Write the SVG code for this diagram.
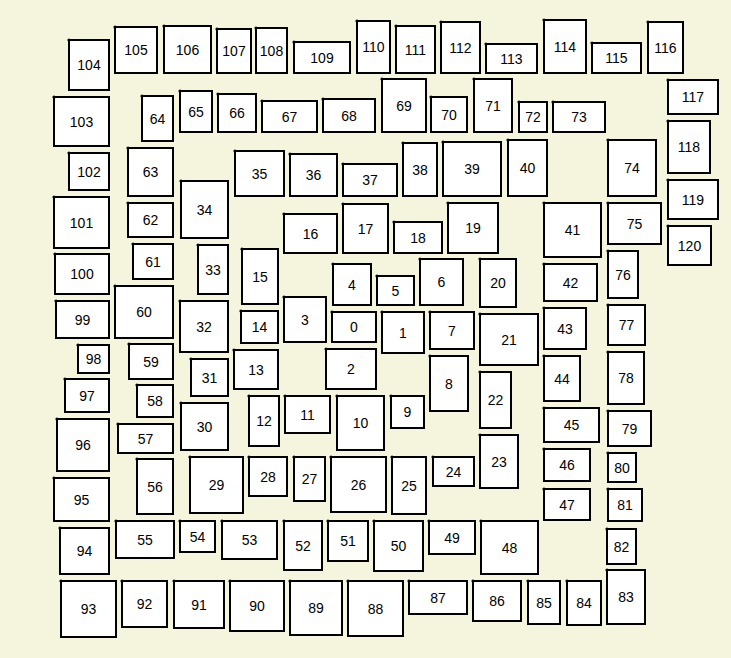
<svg xmlns="http://www.w3.org/2000/svg" width="731" height="658" viewBox="0 0 731 658">
<style>
.n rect{fill:#fff;stroke:#000;stroke-width:2}
.n circle{fill:#000}
.n text{font-family:"Liberation Sans",Arial,sans-serif;font-size:14px;fill:#000;text-anchor:middle;dominant-baseline:central}
</style>
<rect x="0" y="0" width="731" height="658" fill="#f5f4dc"/>
<g id="connectors"/>
<g id="nodes">
<g id="n0" class="n"><rect x="332" y="312" width="44" height="30"/><circle cx="332" cy="312" r="1.6"/><text x="354" y="327">0</text></g>
<g id="n1" class="n"><rect x="382" y="312" width="42" height="41"/><circle cx="382" cy="312" r="1.6"/><text x="403" y="332.5">1</text></g>
<g id="n2" class="n"><rect x="326" y="349" width="50" height="40"/><circle cx="326" cy="349" r="1.6"/><text x="351" y="369">2</text></g>
<g id="n3" class="n"><rect x="284" y="297" width="42" height="45"/><circle cx="284" cy="297" r="1.6"/><text x="305" y="319.5">3</text></g>
<g id="n4" class="n"><rect x="333" y="264" width="38" height="41"/><circle cx="333" cy="264" r="1.6"/><text x="352" y="284.5">4</text></g>
<g id="n5" class="n"><rect x="377" y="276" width="37" height="29"/><circle cx="377" cy="276" r="1.6"/><text x="395.5" y="290.5">5</text></g>
<g id="n6" class="n"><rect x="420" y="259" width="43" height="46"/><circle cx="420" cy="259" r="1.6"/><text x="441.5" y="282">6</text></g>
<g id="n7" class="n"><rect x="430" y="312" width="44" height="37"/><circle cx="430" cy="312" r="1.6"/><text x="452" y="330.5">7</text></g>
<g id="n8" class="n"><rect x="430" y="356" width="38" height="55"/><circle cx="430" cy="356" r="1.6"/><text x="449" y="383.5">8</text></g>
<g id="n9" class="n"><rect x="391" y="396" width="33" height="32"/><circle cx="391" cy="396" r="1.6"/><text x="407.5" y="412">9</text></g>
<g id="n10" class="n"><rect x="337" y="396" width="47" height="54"/><circle cx="337" cy="396" r="1.6"/><text x="360.5" y="423">10</text></g>
<g id="n11" class="n"><rect x="285" y="396" width="45" height="37"/><circle cx="285" cy="396" r="1.6"/><text x="307.5" y="414.5">11</text></g>
<g id="n12" class="n"><rect x="249" y="396" width="30" height="50"/><circle cx="249" cy="396" r="1.6"/><text x="264" y="421">12</text></g>
<g id="n13" class="n"><rect x="234" y="350" width="44" height="39"/><circle cx="234" cy="350" r="1.6"/><text x="256" y="369.5">13</text></g>
<g id="n14" class="n"><rect x="241" y="311" width="37" height="32"/><circle cx="241" cy="311" r="1.6"/><text x="259.5" y="327">14</text></g>
<g id="n15" class="n"><rect x="242" y="249" width="36" height="55"/><circle cx="242" cy="249" r="1.6"/><text x="260" y="276.5">15</text></g>
<g id="n16" class="n"><rect x="284" y="214" width="53" height="39"/><circle cx="284" cy="214" r="1.6"/><text x="310.5" y="233.5">16</text></g>
<g id="n17" class="n"><rect x="343" y="204" width="45" height="49"/><circle cx="343" cy="204" r="1.6"/><text x="365.5" y="228.5">17</text></g>
<g id="n18" class="n"><rect x="394" y="222" width="48" height="31"/><circle cx="394" cy="222" r="1.6"/><text x="418" y="237.5">18</text></g>
<g id="n19" class="n"><rect x="448" y="203" width="50" height="50"/><circle cx="448" cy="203" r="1.6"/><text x="473" y="228">19</text></g>
<g id="n20" class="n"><rect x="480" y="259" width="36" height="48"/><circle cx="480" cy="259" r="1.6"/><text x="498" y="283">20</text></g>
<g id="n21" class="n"><rect x="480" y="314" width="58" height="51"/><circle cx="480" cy="314" r="1.6"/><text x="509" y="339.5">21</text></g>
<g id="n22" class="n"><rect x="480" y="372" width="31" height="56"/><circle cx="480" cy="372" r="1.6"/><text x="495.5" y="400">22</text></g>
<g id="n23" class="n"><rect x="480" y="435" width="38" height="53"/><circle cx="480" cy="435" r="1.6"/><text x="499" y="461.5">23</text></g>
<g id="n24" class="n"><rect x="433" y="457" width="41" height="29"/><circle cx="433" cy="457" r="1.6"/><text x="453.5" y="471.5">24</text></g>
<g id="n25" class="n"><rect x="392" y="457" width="34" height="57"/><circle cx="392" cy="457" r="1.6"/><text x="409" y="485.5">25</text></g>
<g id="n26" class="n"><rect x="331" y="457" width="55" height="55"/><circle cx="331" cy="457" r="1.6"/><text x="358.5" y="484.5">26</text></g>
<g id="n27" class="n"><rect x="294" y="457" width="31" height="44"/><circle cx="294" cy="457" r="1.6"/><text x="309.5" y="479">27</text></g>
<g id="n28" class="n"><rect x="249" y="457" width="38" height="39"/><circle cx="249" cy="457" r="1.6"/><text x="268" y="476.5">28</text></g>
<g id="n29" class="n"><rect x="190" y="457" width="53" height="56"/><circle cx="190" cy="457" r="1.6"/><text x="216.5" y="485">29</text></g>
<g id="n30" class="n"><rect x="181" y="403" width="47" height="47"/><circle cx="181" cy="403" r="1.6"/><text x="204.5" y="426.5">30</text></g>
<g id="n31" class="n"><rect x="191" y="359" width="37" height="37"/><circle cx="191" cy="359" r="1.6"/><text x="209.5" y="377.5">31</text></g>
<g id="n32" class="n"><rect x="180" y="301" width="48" height="51"/><circle cx="180" cy="301" r="1.6"/><text x="204" y="326.5">32</text></g>
<g id="n33" class="n"><rect x="198" y="245" width="30" height="49"/><circle cx="198" cy="245" r="1.6"/><text x="213" y="269.5">33</text></g>
<g id="n34" class="n"><rect x="181" y="181" width="47" height="57"/><circle cx="181" cy="181" r="1.6"/><text x="204.5" y="209.5">34</text></g>
<g id="n35" class="n"><rect x="235" y="151" width="49" height="45"/><circle cx="235" cy="151" r="1.6"/><text x="259.5" y="173.5">35</text></g>
<g id="n36" class="n"><rect x="290" y="154" width="47" height="42"/><circle cx="290" cy="154" r="1.6"/><text x="313.5" y="175">36</text></g>
<g id="n37" class="n"><rect x="343" y="164" width="54" height="32"/><circle cx="343" cy="164" r="1.6"/><text x="370" y="180">37</text></g>
<g id="n38" class="n"><rect x="403" y="143" width="34" height="53"/><circle cx="403" cy="143" r="1.6"/><text x="420" y="169.5">38</text></g>
<g id="n39" class="n"><rect x="443" y="142" width="58" height="54"/><circle cx="443" cy="142" r="1.6"/><text x="472" y="169">39</text></g>
<g id="n40" class="n"><rect x="508" y="140" width="39" height="56"/><circle cx="508" cy="140" r="1.6"/><text x="527.5" y="168">40</text></g>
<g id="n41" class="n"><rect x="544" y="203" width="57" height="54"/><circle cx="544" cy="203" r="1.6"/><text x="572.5" y="230">41</text></g>
<g id="n42" class="n"><rect x="544" y="264" width="53" height="37"/><circle cx="544" cy="264" r="1.6"/><text x="570.5" y="282.5">42</text></g>
<g id="n43" class="n"><rect x="544" y="308" width="42" height="41"/><circle cx="544" cy="308" r="1.6"/><text x="565" y="328.5">43</text></g>
<g id="n44" class="n"><rect x="544" y="356" width="36" height="45"/><circle cx="544" cy="356" r="1.6"/><text x="562" y="378.5">44</text></g>
<g id="n45" class="n"><rect x="544" y="408" width="55" height="34"/><circle cx="544" cy="408" r="1.6"/><text x="571.5" y="425">45</text></g>
<g id="n46" class="n"><rect x="544" y="449" width="46" height="32"/><circle cx="544" cy="449" r="1.6"/><text x="567" y="465">46</text></g>
<g id="n47" class="n"><rect x="544" y="489" width="46" height="31"/><circle cx="544" cy="489" r="1.6"/><text x="567" y="504.5">47</text></g>
<g id="n48" class="n"><rect x="481" y="521" width="57" height="53"/><circle cx="481" cy="521" r="1.6"/><text x="509.5" y="547.5">48</text></g>
<g id="n49" class="n"><rect x="429" y="521" width="46" height="33"/><circle cx="429" cy="521" r="1.6"/><text x="452" y="537.5">49</text></g>
<g id="n50" class="n"><rect x="374" y="521" width="49" height="50"/><circle cx="374" cy="521" r="1.6"/><text x="398.5" y="546">50</text></g>
<g id="n51" class="n"><rect x="328" y="521" width="40" height="40"/><circle cx="328" cy="521" r="1.6"/><text x="348" y="541">51</text></g>
<g id="n52" class="n"><rect x="284" y="521" width="38" height="49"/><circle cx="284" cy="521" r="1.6"/><text x="303" y="545.5">52</text></g>
<g id="n53" class="n"><rect x="222" y="521" width="55" height="38"/><circle cx="222" cy="521" r="1.6"/><text x="249.5" y="540">53</text></g>
<g id="n54" class="n"><rect x="180" y="521" width="35" height="31"/><circle cx="180" cy="521" r="1.6"/><text x="197.5" y="536.5">54</text></g>
<g id="n55" class="n"><rect x="116" y="521" width="58" height="37"/><circle cx="116" cy="521" r="1.6"/><text x="145" y="539.5">55</text></g>
<g id="n56" class="n"><rect x="137" y="459" width="36" height="55"/><circle cx="137" cy="459" r="1.6"/><text x="155" y="486.5">56</text></g>
<g id="n57" class="n"><rect x="118" y="424" width="55" height="29"/><circle cx="118" cy="424" r="1.6"/><text x="145.5" y="438.5">57</text></g>
<g id="n58" class="n"><rect x="137" y="385" width="36" height="32"/><circle cx="137" cy="385" r="1.6"/><text x="155" y="401">58</text></g>
<g id="n59" class="n"><rect x="129" y="344" width="44" height="35"/><circle cx="129" cy="344" r="1.6"/><text x="151" y="361.5">59</text></g>
<g id="n60" class="n"><rect x="115" y="286" width="58" height="52"/><circle cx="115" cy="286" r="1.6"/><text x="144" y="312">60</text></g>
<g id="n61" class="n"><rect x="133" y="244" width="40" height="35"/><circle cx="133" cy="244" r="1.6"/><text x="153" y="261.5">61</text></g>
<g id="n62" class="n"><rect x="128" y="203" width="45" height="34"/><circle cx="128" cy="203" r="1.6"/><text x="150.5" y="220">62</text></g>
<g id="n63" class="n"><rect x="128" y="148" width="45" height="48"/><circle cx="128" cy="148" r="1.6"/><text x="150.5" y="172">63</text></g>
<g id="n64" class="n"><rect x="142" y="96" width="31" height="45"/><circle cx="142" cy="96" r="1.6"/><text x="157.5" y="118.5">64</text></g>
<g id="n65" class="n"><rect x="180" y="91" width="32" height="41"/><circle cx="180" cy="91" r="1.6"/><text x="196" y="111.5">65</text></g>
<g id="n66" class="n"><rect x="218" y="94" width="38" height="38"/><circle cx="218" cy="94" r="1.6"/><text x="237" y="113">66</text></g>
<g id="n67" class="n"><rect x="262" y="101" width="55" height="31"/><circle cx="262" cy="101" r="1.6"/><text x="289.5" y="116.5">67</text></g>
<g id="n68" class="n"><rect x="323" y="99" width="52" height="33"/><circle cx="323" cy="99" r="1.6"/><text x="349" y="115.5">68</text></g>
<g id="n69" class="n"><rect x="382" y="79" width="44" height="53"/><circle cx="382" cy="79" r="1.6"/><text x="404" y="105.5">69</text></g>
<g id="n70" class="n"><rect x="431" y="97" width="36" height="35"/><circle cx="431" cy="97" r="1.6"/><text x="449" y="114.5">70</text></g>
<g id="n71" class="n"><rect x="474" y="79" width="38" height="53"/><circle cx="474" cy="79" r="1.6"/><text x="493" y="105.5">71</text></g>
<g id="n72" class="n"><rect x="519" y="102" width="28" height="30"/><circle cx="519" cy="102" r="1.6"/><text x="533" y="117">72</text></g>
<g id="n73" class="n"><rect x="553" y="102" width="52" height="30"/><circle cx="553" cy="102" r="1.6"/><text x="579" y="117">73</text></g>
<g id="n74" class="n"><rect x="608" y="140" width="48" height="56"/><circle cx="608" cy="140" r="1.6"/><text x="632" y="168">74</text></g>
<g id="n75" class="n"><rect x="608" y="203" width="53" height="41"/><circle cx="608" cy="203" r="1.6"/><text x="634.5" y="223.5">75</text></g>
<g id="n76" class="n"><rect x="608" y="251" width="30" height="47"/><circle cx="608" cy="251" r="1.6"/><text x="623" y="274.5">76</text></g>
<g id="n77" class="n"><rect x="608" y="305" width="37" height="40"/><circle cx="608" cy="305" r="1.6"/><text x="626.5" y="325">77</text></g>
<g id="n78" class="n"><rect x="608" y="352" width="36" height="52"/><circle cx="608" cy="352" r="1.6"/><text x="626" y="378">78</text></g>
<g id="n79" class="n"><rect x="608" y="411" width="43" height="35"/><circle cx="608" cy="411" r="1.6"/><text x="629.5" y="428.5">79</text></g>
<g id="n80" class="n"><rect x="608" y="453" width="28" height="29"/><circle cx="608" cy="453" r="1.6"/><text x="622" y="467.5">80</text></g>
<g id="n81" class="n"><rect x="608" y="489" width="34" height="32"/><circle cx="608" cy="489" r="1.6"/><text x="625" y="505">81</text></g>
<g id="n82" class="n"><rect x="607" y="529" width="29" height="35"/><circle cx="607" cy="529" r="1.6"/><text x="621.5" y="546.5">82</text></g>
<g id="n83" class="n"><rect x="607" y="570" width="38" height="54"/><circle cx="607" cy="570" r="1.6"/><text x="626" y="597">83</text></g>
<g id="n84" class="n"><rect x="567" y="581" width="34" height="44"/><circle cx="567" cy="581" r="1.6"/><text x="584" y="603">84</text></g>
<g id="n85" class="n"><rect x="528" y="581" width="32" height="43"/><circle cx="528" cy="581" r="1.6"/><text x="544" y="602.5">85</text></g>
<g id="n86" class="n"><rect x="473" y="581" width="48" height="40"/><circle cx="473" cy="581" r="1.6"/><text x="497" y="601">86</text></g>
<g id="n87" class="n"><rect x="409" y="581" width="58" height="33"/><circle cx="409" cy="581" r="1.6"/><text x="438" y="597.5">87</text></g>
<g id="n88" class="n"><rect x="348" y="581" width="55" height="55"/><circle cx="348" cy="581" r="1.6"/><text x="375.5" y="608.5">88</text></g>
<g id="n89" class="n"><rect x="290" y="581" width="52" height="54"/><circle cx="290" cy="581" r="1.6"/><text x="316" y="608">89</text></g>
<g id="n90" class="n"><rect x="230" y="581" width="54" height="50"/><circle cx="230" cy="581" r="1.6"/><text x="257" y="606">90</text></g>
<g id="n91" class="n"><rect x="174" y="581" width="50" height="47"/><circle cx="174" cy="581" r="1.6"/><text x="199" y="604.5">91</text></g>
<g id="n92" class="n"><rect x="122" y="581" width="45" height="46"/><circle cx="122" cy="581" r="1.6"/><text x="144.5" y="604">92</text></g>
<g id="n93" class="n"><rect x="61" y="581" width="55" height="56"/><circle cx="61" cy="581" r="1.6"/><text x="88.5" y="609">93</text></g>
<g id="n94" class="n"><rect x="60" y="528" width="49" height="46"/><circle cx="60" cy="528" r="1.6"/><text x="84.5" y="551">94</text></g>
<g id="n95" class="n"><rect x="54" y="478" width="55" height="43"/><circle cx="54" cy="478" r="1.6"/><text x="81.5" y="499.5">95</text></g>
<g id="n96" class="n"><rect x="57" y="419" width="52" height="52"/><circle cx="57" cy="419" r="1.6"/><text x="83" y="445">96</text></g>
<g id="n97" class="n"><rect x="65" y="379" width="44" height="33"/><circle cx="65" cy="379" r="1.6"/><text x="87" y="395.5">97</text></g>
<g id="n98" class="n"><rect x="78" y="345" width="31" height="28"/><circle cx="78" cy="345" r="1.6"/><text x="93.5" y="359">98</text></g>
<g id="n99" class="n"><rect x="56" y="301" width="53" height="37"/><circle cx="56" cy="301" r="1.6"/><text x="82.5" y="319.5">99</text></g>
<g id="n100" class="n"><rect x="55" y="254" width="54" height="40"/><circle cx="55" cy="254" r="1.6"/><text x="82" y="274">100</text></g>
<g id="n101" class="n"><rect x="54" y="197" width="55" height="51"/><circle cx="54" cy="197" r="1.6"/><text x="81.5" y="222.5">101</text></g>
<g id="n102" class="n"><rect x="69" y="153" width="40" height="37"/><circle cx="69" cy="153" r="1.6"/><text x="89" y="171.5">102</text></g>
<g id="n103" class="n"><rect x="54" y="97" width="55" height="49"/><circle cx="54" cy="97" r="1.6"/><text x="81.5" y="121.5">103</text></g>
<g id="n104" class="n"><rect x="69" y="40" width="40" height="50"/><circle cx="69" cy="40" r="1.6"/><text x="89" y="65">104</text></g>
<g id="n105" class="n"><rect x="115" y="27" width="42" height="46"/><circle cx="115" cy="27" r="1.6"/><text x="136" y="50">105</text></g>
<g id="n106" class="n"><rect x="164" y="26" width="47" height="47"/><circle cx="164" cy="26" r="1.6"/><text x="187.5" y="49.5">106</text></g>
<g id="n107" class="n"><rect x="217" y="29" width="34" height="44"/><circle cx="217" cy="29" r="1.6"/><text x="234" y="51">107</text></g>
<g id="n108" class="n"><rect x="256" y="28" width="31" height="45"/><circle cx="256" cy="28" r="1.6"/><text x="271.5" y="50.5">108</text></g>
<g id="n109" class="n"><rect x="294" y="42" width="56" height="31"/><circle cx="294" cy="42" r="1.6"/><text x="322" y="57.5">109</text></g>
<g id="n110" class="n"><rect x="357" y="21" width="33" height="52"/><circle cx="357" cy="21" r="1.6"/><text x="373.5" y="47">110</text></g>
<g id="n111" class="n"><rect x="396" y="26" width="39" height="47"/><circle cx="396" cy="26" r="1.6"/><text x="415.5" y="49.5">111</text></g>
<g id="n112" class="n"><rect x="441" y="22" width="39" height="51"/><circle cx="441" cy="22" r="1.6"/><text x="460.5" y="47.5">112</text></g>
<g id="n113" class="n"><rect x="486" y="44" width="51" height="29"/><circle cx="486" cy="44" r="1.6"/><text x="511.5" y="58.5">113</text></g>
<g id="n114" class="n"><rect x="544" y="20" width="42" height="53"/><circle cx="544" cy="20" r="1.6"/><text x="565" y="46.5">114</text></g>
<g id="n115" class="n"><rect x="592" y="43" width="49" height="30"/><circle cx="592" cy="43" r="1.6"/><text x="616.5" y="58">115</text></g>
<g id="n116" class="n"><rect x="648" y="22" width="35" height="51"/><circle cx="648" cy="22" r="1.6"/><text x="665.5" y="47.5">116</text></g>
<g id="n117" class="n"><rect x="668" y="80" width="50" height="34"/><circle cx="668" cy="80" r="1.6"/><text x="693" y="97">117</text></g>
<g id="n118" class="n"><rect x="668" y="121" width="42" height="52"/><circle cx="668" cy="121" r="1.6"/><text x="689" y="147">118</text></g>
<g id="n119" class="n"><rect x="668" y="180" width="50" height="39"/><circle cx="668" cy="180" r="1.6"/><text x="693" y="199.5">119</text></g>
<g id="n120" class="n"><rect x="668" y="226" width="43" height="39"/><circle cx="668" cy="226" r="1.6"/><text x="689.5" y="245.5">120</text></g>
</g>
</svg>
